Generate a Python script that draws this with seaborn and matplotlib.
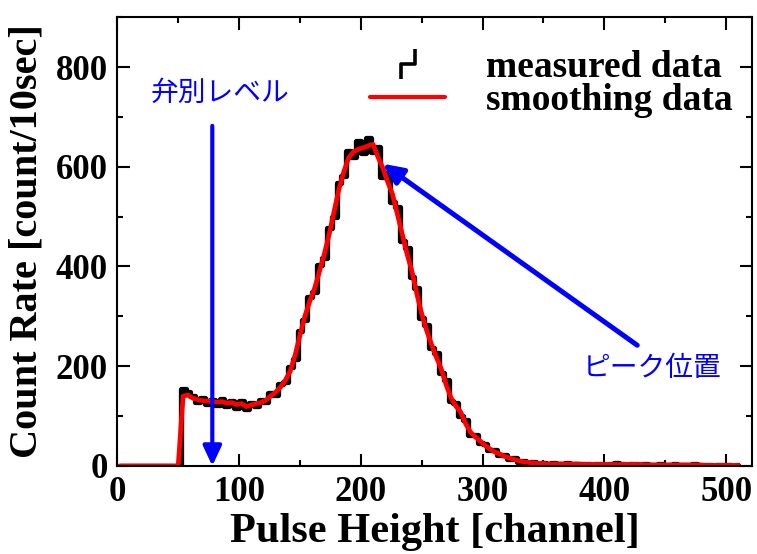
import numpy as np
import matplotlib
matplotlib.use("Agg")
import matplotlib.pyplot as plt
from matplotlib.lines import Line2D
from matplotlib.path import Path
from matplotlib.ticker import MultipleLocator
import seaborn as sns

# ---- data (4-channel bins) ----
channel = np.arange(0, 512, 4)

measured = [0] * 13 + [
    155, 148, 140, 128, 136, 124, 133, 122, 135, 120, 131, 117, 130, 114, 126, 121, 133,
    128, 146, 142, 165, 168, 198, 215, 270, 292, 338, 348, 402, 416, 478, 500, 568,
    582, 632, 620, 652, 628, 658, 630, 640, 580, 588, 530, 520, 452, 438, 378, 356,
    296, 282, 236, 226, 186, 172, 130, 126, 100, 92, 63, 62, 46, 44, 31, 31,
    21, 22, 13, 15, 8, 10, 5, 7, 4, 6,
    3, 5, 3, 4, 5, 2, 4, 3, 4, 2, 3, 4, 2, 3, 5, 3, 2, 4, 3, 2,
    3, 1, 2, 3, 2, 1, 3, 2, 1, 2, 3, 1, 2, 1, 0, 2, 1, 1, 0, 1,
]

smoothing = [0] * 13 + [
    140, 142, 136, 133, 131, 130, 129, 128, 129, 126, 127, 123, 125, 119, 122, 125, 127,
    132, 140, 148, 158, 172, 190, 222, 262, 300, 330, 356, 390, 425, 465, 510, 555,
    590, 618, 630, 635, 638, 642, 645, 620, 598, 570, 545, 505, 465, 425, 390, 345,
    305, 272, 244, 218, 195, 163, 137, 120, 108, 85, 68, 58, 50, 41, 34, 28,
    24, 19, 16, 13, 10, 8, 7, 6, 5, 5,
    4, 4, 4, 4, 4, 4, 4, 3, 3, 3, 3, 3, 3, 3, 3, 3, 3, 3, 3, 3,
    2, 2, 2, 2, 2, 2, 2, 2, 2, 2, 2, 2, 1, 1, 1, 1, 1, 1, 1, 1,
]

level_channel = 78
peak_xy = (218, 606)
peak_label_xy = (427, 242)

# ---- style ----
sns.set_theme(style="ticks")
plt.rcParams['font.family'] = ['Liberation Serif', 'DejaVu Serif']
plt.rcParams['font.weight'] = 'bold'
plt.rcParams['axes.linewidth'] = 1.5
for key in ['text.color', 'axes.labelcolor', 'xtick.color', 'ytick.color', 'axes.edgecolor']:
    plt.rcParams[key] = 'black'

fig = plt.figure(figsize=(7.57, 5.54), dpi=100)
ax = fig.add_axes([0.155, 0.159, 0.838, 0.810])

x = channel + 2
sns.lineplot(x=x, y=measured, ax=ax, color='black', linewidth=3.8,
             drawstyle='steps-mid', legend=False)
sns.lineplot(x=x, y=smoothing, ax=ax, color='#ff0000', linewidth=3.4,
             legend=False)

ax.set_xlim(0, 521)
ax.set_ylim(0, 900)
ax.xaxis.set_major_locator(MultipleLocator(100))
ax.xaxis.set_minor_locator(MultipleLocator(50))
ax.yaxis.set_major_locator(MultipleLocator(200))
ax.yaxis.set_minor_locator(MultipleLocator(100))
ax.tick_params(which='both', direction='in', top=True, right=True, width=1.5,
               labelsize=25, colors='black')
ax.tick_params(which='major', length=9, pad=7)
ax.tick_params(which='minor', length=4.5)
for lab in ax.get_xticklabels() + ax.get_yticklabels():
    lab.set_fontweight('bold')

ax.set_xlabel('Pulse Height [channel]', fontsize=30.5, fontweight='bold', labelpad=3)
ax.set_ylabel('Count Rate [count/10sec]', fontsize=29, fontweight='bold', labelpad=7)

# ---- annotations ----
jp = ['Noto Sans CJK JP', 'DejaVu Sans']
ax.annotate('', xy=(level_channel, 0), xytext=(level_channel, 682),
            arrowprops=dict(arrowstyle='-|>,head_length=0.6,head_width=0.28',
                            mutation_scale=20, color='#0000ff', lw=3,
                            shrinkA=0, shrinkB=0))
ax.text(84, 748, '弁別レベル', color='#0000ff', fontsize=20, family=jp,
        fontweight='normal', ha='center', va='center')

ax.annotate('', xy=peak_xy, xytext=peak_label_xy,
            arrowprops=dict(arrowstyle='-|>,head_length=0.6,head_width=0.28',
                            mutation_scale=20, color='#0000ff', lw=3.6,
                            shrinkA=0, shrinkB=0))
ax.text(439, 196, 'ピーク位置', color='#0000ff', fontsize=20, family=jp,
        fontweight='normal', ha='center', va='center')

# ---- legend ----
step_path = Path([(-0.25, -0.5), (-0.25, 0.0), (0.25, 0.0), (0.25, 0.5)],
                 [Path.MOVETO, Path.LINETO, Path.LINETO, Path.LINETO])
handles = [
    Line2D([], [], color='black', marker=step_path, linestyle='none',
           markersize=21, markerfacecolor='none', markeredgewidth=2.6),
    Line2D([], [], color='#ff0000', linewidth=3),
]
leg = fig.legend(handles, ['measured data', 'smoothing data'],
                 loc='upper left', bbox_to_anchor=(370 / 757, 1 - 50 / 554),
                 frameon=False, handlelength=2.0,
                 handletextpad=1.1, labelspacing=-0.05, borderpad=0,
                 borderaxespad=0, numpoints=1,
                 prop={'weight': 'bold', 'size': 27})

fig.savefig('out.png', dpi=100)
